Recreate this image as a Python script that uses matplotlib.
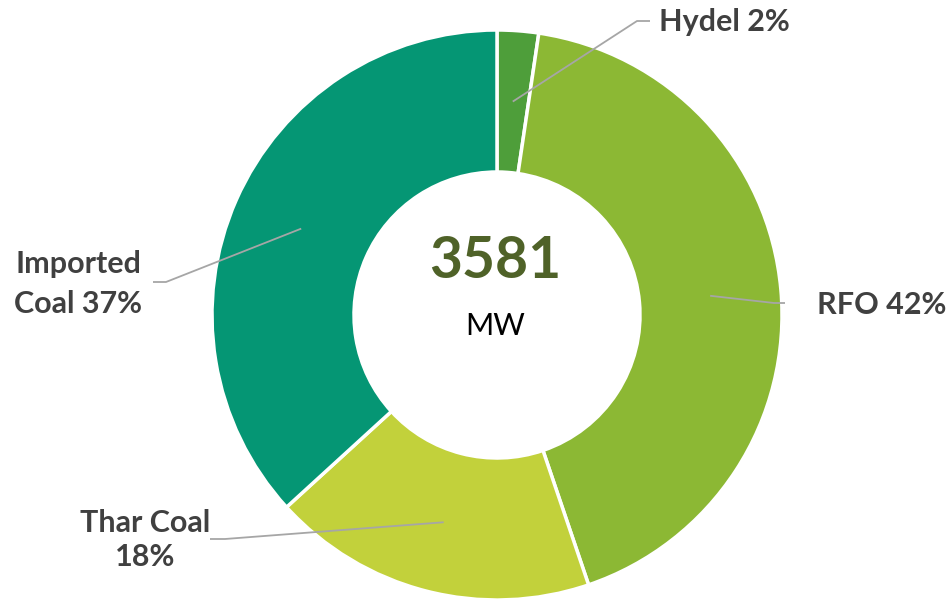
import numpy as np
import matplotlib
matplotlib.use("Agg")
import matplotlib.pyplot as plt

categories = ["Hydel", "RFO", "Thar Coal", "Imported Coal"]
values_mw = [84, 1520, 660, 1317]
pct_labels = ["2%", "42%", "18%", "37%"]
total_mw = "3581"
unit = "MW"
colors = ["#4E9E3A", "#8CB834", "#C2D13B", "#059674"]

W, H = 948, 599
fig = plt.figure(figsize=(W / 100, H / 100), dpi=100)
ax = fig.add_axes([0, 0, 1, 1])

cx, cy = 497, H - 315
R, r_in = 285, 143
wedges, _ = ax.pie(values_mw, colors=colors, startangle=90, counterclock=False,
                   radius=R, center=(cx, cy), frame=True,
                   wedgeprops=dict(width=R - r_in, edgecolor="white", linewidth=2.5))
ax.set_xlim(0, W)
ax.set_ylim(0, H)
ax.set_aspect("equal")
ax.axis("off")

label_font = dict(family=["Lato", "DejaVu Sans"], fontweight="bold", fontsize=22, color="#404040")
# label layout: (text x, text y, ha, elbow x, elbow y, end x, linespacing)
layout = [
    (659, 22, "left", 637, 21, 650, 1.3),
    (817, 305, "left", 774, 303, 785, 1.3),
    (145, 540, "center", 225, 539, 210, 1.3),
    (78, 284, "center", 166, 282, 153, 1.48),
]
texts = [f"{categories[0]} {pct_labels[0]}", f"{categories[1]} {pct_labels[1]}",
         f"{categories[2]}\n{pct_labels[2]}",
         categories[3].replace(" ", "\n", 1) + f" {pct_labels[3]}"]
total = sum(values_mw)
cum = 0
for i, v in enumerate(values_mw):
    mid = (cum + v / 2) / total
    cum += v
    ang = np.deg2rad(90 - 360 * mid)
    rm = (R + r_in) / 2
    sx, sy = cx + rm * np.cos(ang), cy + rm * np.sin(ang)
    tx, ty, ha, ex, ey, endx, ls = layout[i]
    ax.plot([sx, ex, endx], [sy, H - ey, H - ey], color="#A6A6A6", lw=1.3,
            solid_capstyle="butt", zorder=3)
    ax.text(tx, H - ty, texts[i], ha=ha, va="center", multialignment="center",
            linespacing=ls, **label_font)

ax.text(cx - 2, H - 262, total_mw, ha="center", va="center",
        family=["Lato", "DejaVu Sans"], fontweight="bold", fontsize=41, color="#4F6228")
ax.text(cx - 2, H - 326, unit, ha="center", va="center",
        family=["Lato", "DejaVu Sans"], fontsize=22, color="#000000")

fig.savefig("out.png", dpi=100, facecolor="white")
